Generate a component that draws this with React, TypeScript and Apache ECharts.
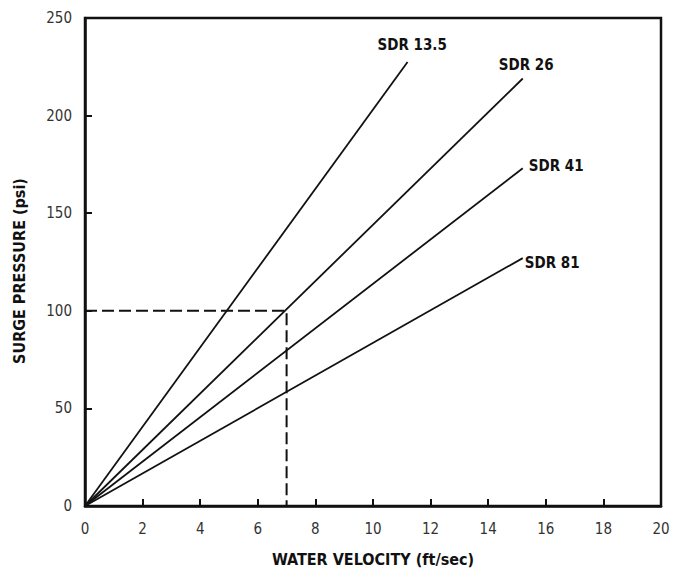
import React, { useEffect, useRef } from "react";
import * as echarts from "echarts";

const xTicks = [0, 2, 4, 6, 8, 10, 12, 14, 16, 18, 20];
const yTicks = [0, 50, 100, 150, 200, 250];
const seriesNames = ["SDR 13.5", "SDR 26", "SDR 41", "SDR 81"];
const velocityEnd = [11.2, 15.2, 15.2, 15.2];
const pressureEnd = [227.5, 219, 173, 127];
const guideVelocity = 7;
const guidePressure = 100;

const FONT = "'DejaVu Sans Condensed', 'DejaVu Sans', sans-serif";

export default function App() {
  const ref = useRef<HTMLDivElement>(null);
  useEffect(() => {
    if (!ref.current) return;
    const chart = echarts.init(ref.current, undefined, { renderer: "svg" });
    const labelOffsets: number[][] = [
      [-30, -17],
      [-24, -14],
      [6, -2],
      [2, 5],
    ];
    const lines = seriesNames.map((name, i) => ({
      type: "line",
      name,
      symbol: "none",
      lineStyle: { color: "#111", width: 1.8 },
      endLabel: {
        show: true,
        formatter: name,
        color: "#111",
        fontFamily: FONT,
        fontWeight: "bold",
        fontSize: 15,
        distance: 0,
        align: "left",
        verticalAlign: "middle",
        offset: labelOffsets[i],
      },
      data: [
        [0, 0],
        [velocityEnd[i], pressureEnd[i]],
      ],
    }));
    chart.setOption({
      animation: false,
      grid: {
        left: 85,
        right: 12,
        top: 18,
        bottom: 63,
        outerBoundsMode: "none",
        containLabel: false,
        show: true,
        borderColor: "#111",
        borderWidth: 2.5,
        backgroundColor: "transparent",
      },
      xAxis: {
        type: "value",
        min: xTicks[0],
        max: xTicks[xTicks.length - 1],
        interval: 2,
        name: "WATER VELOCITY (ft/sec)",
        nameLocation: "middle",
        nameGap: 45,
        nameTextStyle: { color: "#111", fontFamily: FONT, fontWeight: "bold", fontSize: 16 },
        axisLine: { lineStyle: { color: "#111", width: 2.5 } },
        axisTick: { inside: true, length: 7, lineStyle: { color: "#111", width: 2 } },
        axisLabel: { color: "#333", fontFamily: FONT, fontSize: 15, margin: 15 },
        splitLine: { show: false },
      },
      yAxis: {
        type: "value",
        min: yTicks[0],
        max: yTicks[yTicks.length - 1],
        interval: 50,
        name: "SURGE PRESSURE (psi)",
        nameLocation: "middle",
        nameGap: 58,
        nameTextStyle: {
          color: "#111",
          fontFamily: FONT,
          fontWeight: "bold",
          fontSize: 16,
          padding: [0, 18, 0, 0],
        },
        axisLine: { show: true, lineStyle: { color: "#111", width: 2.5 } },
        axisTick: { show: true, inside: true, length: 7, lineStyle: { color: "#111", width: 2 } },
        axisLabel: {
          color: "#333",
          fontFamily: FONT,
          fontSize: 15,
          margin: 13,
          padding: [5, 0, 0, 0],
        },
        splitLine: { show: false },
      },
      series: [
        ...lines,
        {
          type: "line",
          name: "guide",
          symbol: "none",
          lineStyle: { color: "#111", width: 2, type: [12, 5] },
          data: [
            [0, guidePressure],
            [guideVelocity, guidePressure],
            [guideVelocity, 0],
          ],
        },
      ],
    });
    return () => chart.dispose();
  }, []);
  return (
    <div
      ref={ref}
      style={{ position: "fixed", left: 0, top: 0, width: 673, height: 569, background: "#fff" }}
    />
  );
}
